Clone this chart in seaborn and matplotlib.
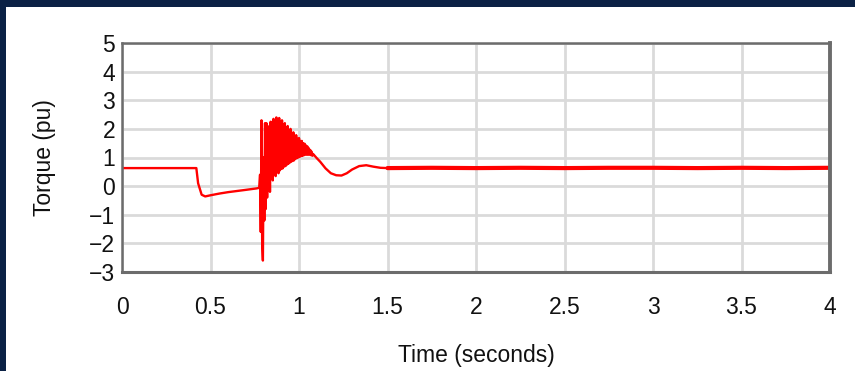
import matplotlib
matplotlib.use("Agg")
import matplotlib.pyplot as plt
import seaborn as sns
import pandas as pd
from matplotlib.patches import Rectangle

# Electromagnetic torque of the machine through a fault and its clearing
time_s = [
    0.000, 0.420, 0.430, 0.450, 0.470, 0.500, 0.550, 0.600, 0.650, 0.700, 0.760, 0.775,
    0.780, 0.784, 0.788, 0.792, 0.796, 0.800, 0.804, 0.808, 0.812,
    0.816, 0.820, 0.824, 0.828, 0.832, 0.836, 0.840, 0.844, 0.848, 0.852,
    0.856, 0.860, 0.864, 0.868, 0.872, 0.876, 0.880, 0.884, 0.888, 0.892,
    0.896, 0.900, 0.904, 0.908, 0.912, 0.916, 0.920, 0.924, 0.928, 0.932,
    0.936, 0.940, 0.944, 0.948, 0.952, 0.956, 0.960, 0.964, 0.968, 0.972,
    0.976, 0.980, 0.984, 0.988, 0.992, 0.996, 1.000, 1.004, 1.008, 1.012,
    1.016, 1.020, 1.024, 1.028, 1.032, 1.036, 1.040, 1.044, 1.048, 1.052,
    1.056, 1.060, 1.064, 1.068, 1.072, 1.076, 1.080,
    1.090, 1.100, 1.120, 1.150, 1.180, 1.210, 1.240,
    1.270, 1.300, 1.340, 1.380, 1.420, 1.460, 1.500,
]
torque_pu = [
    0.63, 0.63, 0.10, -0.30, -0.36, -0.32, -0.26, -0.21, -0.17, -0.13, -0.08, -0.06,
    0.40, -1.60, 2.30, -2.00, -2.60, 1.00, -1.20, 2.20, -0.80,
    2.20, -0.40, 1.90, 0.10, 2.10, -0.20, 2.25, 0.30, 2.00, 0.20,
    2.35, 0.40, 2.10, 0.35, 2.40, 0.50, 2.20, 0.45, 2.38, 0.55,
    2.15, 0.60, 2.30, 0.62, 2.05, 0.68, 2.20, 0.70, 1.95, 0.75,
    2.10, 0.78, 1.90, 0.82, 2.00, 0.85, 1.80, 0.88, 1.88, 0.90,
    1.72, 0.95, 1.78, 0.98, 1.65, 1.00, 1.68, 1.02, 1.58, 1.05,
    1.58, 1.06, 1.50, 1.08, 1.48, 1.10, 1.42, 1.10, 1.38, 1.10,
    1.32, 1.10, 1.26, 1.08, 1.20, 1.06, 1.12,
    1.05, 0.98, 0.85, 0.62, 0.45, 0.38, 0.37,
    0.45, 0.58, 0.70, 0.73, 0.68, 0.64, 0.63,
]

# Post-fault steady state with its small ripple
steady_time_s = [1.50, 1.75, 2.00, 2.25, 2.50, 2.75, 3.00, 3.25, 3.50, 3.75, 4.00]
steady_torque_pu = [0.63, 0.64, 0.63, 0.64, 0.63, 0.64, 0.64, 0.63, 0.64, 0.63, 0.64]

x_ticks = [0, 0.5, 1, 1.5, 2, 2.5, 3, 3.5, 4]
x_tick_labels = ["0", "0.5", "1", "1.5", "2", "2.5", "3", "3.5", "4"]
y_ticks = [-3, -2, -1, 0, 1, 2, 3, 4, 5]
y_tick_labels = ["\u22123", "\u22122", "\u22121", "0", "1", "2", "3", "4", "5"]

sns.set_theme(style="whitegrid")
plt.rcParams["font.family"] = ["Liberation Sans", "DejaVu Sans"]

fig = plt.figure(figsize=(8.55, 3.71), dpi=100)
fig.patch.set_facecolor("white")
ax = fig.add_axes([122 / 855, 1 - 272 / 371, 708 / 855, 229 / 371])
ax.set_facecolor("white")

trace = pd.DataFrame({"t": time_s, "torque": torque_pu})
steady = pd.DataFrame({"t": steady_time_s, "torque": steady_torque_pu})

sns.lineplot(data=trace, x="t", y="torque", sort=False, estimator=None,
             color="#ff0000", linewidth=1.7, ax=ax)
sns.lineplot(data=steady, x="t", y="torque", sort=False, estimator=None,
             color="#ff0000", linewidth=3.0, ax=ax)

ax.set_xlim(0, 4)
ax.set_ylim(-3, 5)
ax.set_xticks(x_ticks)
ax.set_xticklabels(x_tick_labels)
ax.set_yticks(y_ticks)
ax.set_yticklabels(y_tick_labels)

ax.grid(True, color="#dadada", linewidth=2.0)
ax.tick_params(axis="both", length=0, labelsize=16.5, colors="#111111")
ax.tick_params(axis="x", pad=17)
ax.tick_params(axis="y", pad=5)

ax.set_xlabel("Time (seconds)", fontsize=16.5, color="#111111", labelpad=18)
ax.set_ylabel("Torque (pu)", fontsize=16.5, color="#111111", labelpad=24)

for side, lw in (("left", 1.8), ("bottom", 2.2), ("top", 1.8), ("right", 2.8)):
    ax.spines[side].set_visible(True)
    ax.spines[side].set_color("#6c6c6c")
    ax.spines[side].set_linewidth(lw)

# Navy frame along the top and left edges of the figure
fig.patches.append(Rectangle((0, 1 - 7 / 371), 1, 7 / 371, transform=fig.transFigure,
                             facecolor="#0b2145", edgecolor="none", zorder=10))
fig.patches.append(Rectangle((0, 0), 6 / 855, 1, transform=fig.transFigure,
                             facecolor="#0b2145", edgecolor="none", zorder=10))

fig.savefig("out.png", dpi=100, facecolor="white")
